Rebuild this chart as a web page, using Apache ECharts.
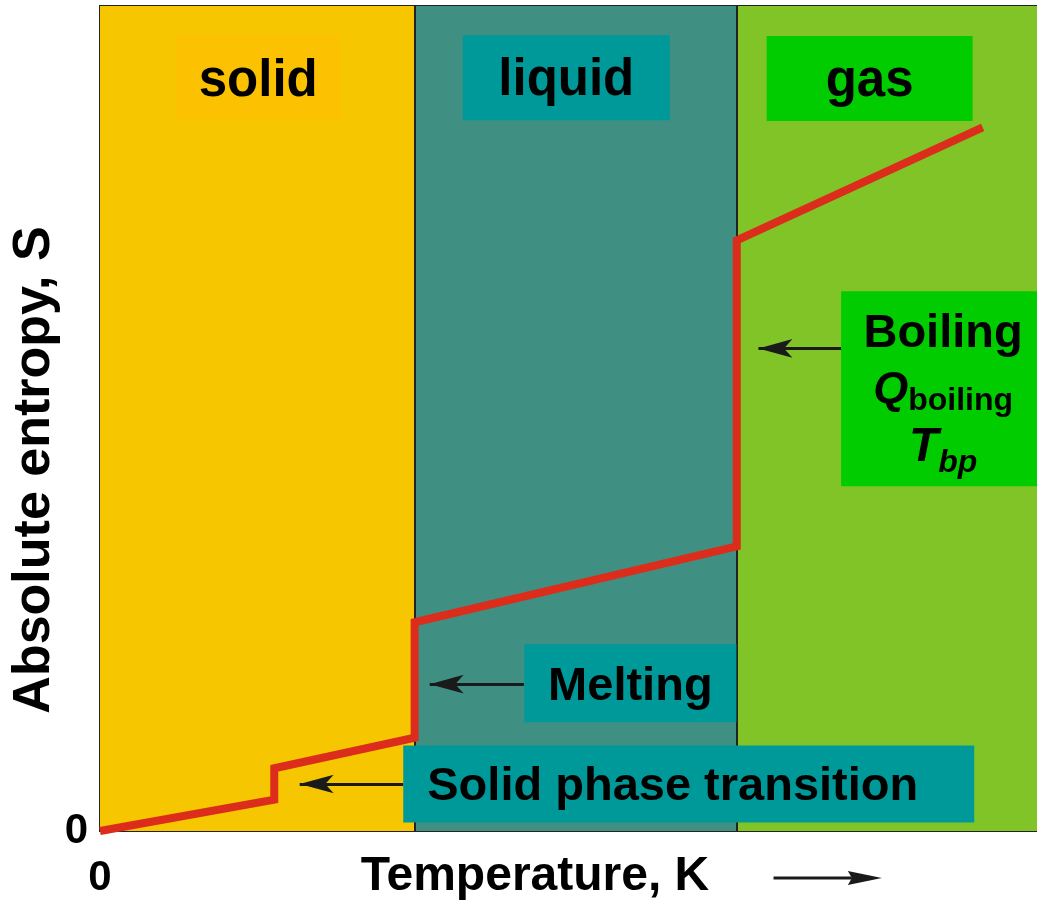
<!DOCTYPE html>
<html>
<head>
<meta charset="utf-8">
<script src="https://cdn.jsdelivr.net/npm/echarts@6/dist/echarts.min.js"></script>
<style>
  html, body { margin: 0; padding: 0; background: #fff; }
  #main { width: 1037px; height: 903px; }
</style>
</head>
<body>
<div id="main"></div>
<script>
// phases and where they meet on the temperature axis
var phaseNames = ['solid', 'liquid', 'gas'];
var phaseEdges = [0, 33.4, 67.6, 100];

// entropy curve (temperature, entropy)
var curveT = [0, 18.5, 18.5, 33.4, 33.4, 67.6, 67.6, 93.7];
var curveS = [0, 3.8, 7.6, 11.3, 25.3, 34.5, 71.6, 85.3];

// tick labels
var xTickLabels = ['0'];
var yTickLabels = ['0'];

// annotations: text, anchor (T, S), arrow from -> to
var notes = ['solid', 'liquid', 'gas', 'Boiling', 'Melting', 'Solid phase transition'];
var noteT = [16.8, 49.5, 81.7, 89.5, 56.3, 62.5];
var noteS = [91.2, 91.3, 91.2, 53.6, 17.9, 5.7];
var arrowFromT = [78.7, 45.0, 32.2];
var arrowToT = [69.9, 35.0, 21.2];
var arrowS = [58.5, 17.8, 5.7];
// the arrow next to the axis title, below the axis
var axisArrowT = [71.5, 83.0];
var axisArrowS = -5.7;

var FONT = '"Liberation Sans", Arial, sans-serif';
var bandColors = ['#F6C700', '#3F9082', '#80C427'];
var boxColors = ['#FCC100', '#009999', '#00CC00', '#00CC00', '#009999', '#009999'];
var boxSizes = [[165, 86], [207, 85], [206, 85], [204, 195], [212, 78], [571, 77]];
var textPads = [[6, 0, 0, 0], [6, 0, 0, 0], [6, 0, 0, 0], [4, 0, 0, 0], [7, 0, 0, 0], [7, 32, 0, 0]];

var myChart = echarts.init(document.getElementById('main'));

var curve = curveT.map(function (t, i) { return [t, curveS[i]]; });

var bands = phaseNames.map(function (n, i) {
  return [
    { xAxis: phaseEdges[i], itemStyle: { color: bandColors[i] } },
    { xAxis: phaseEdges[i + 1] }
  ];
});

var edgeLines = phaseEdges.slice(1, 3).map(function (e) { return { xAxis: e }; });

function noteText(n, i) {
  if (i < 3) return '{ph|' + n + '}';
  if (n === 'Boiling') return '{b|Boiling}\n{q|Q}{qs|boiling}\n{t|T}{ts|bp}';
  return '{ev|' + n + '}';
}

var noteData = notes.map(function (n, i) {
  return {
    value: [noteT[i], noteS[i]],
    symbolSize: boxSizes[i],
    itemStyle: { color: boxColors[i], opacity: 1 },
    label: { formatter: noteText(n, i), padding: textPads[i] }
  };
});

var arrows = arrowFromT.map(function (f, i) {
  return [
    { coord: [f, arrowS[i]], symbol: 'none' },
    { coord: [arrowToT[i], arrowS[i]], symbol: 'arrow' }
  ];
});

var option = {
  animation: false,
  grid: {
    left: 100, top: 6, right: -5, bottom: 72,
    containLabel: false, outerBoundsMode: 'none',
    show: true, borderColor: '#222', borderWidth: 2, backgroundColor: 'transparent'
  },
  xAxis: {
    type: 'value', min: 0, max: 100, interval: 100,
    name: 'Temperature, K', nameLocation: 'middle', nameGap: 22, nameMoveOverlap: false,
    nameTextStyle: { fontFamily: FONT, fontWeight: 'bold', fontSize: 48, color: '#000', padding: [0, 72, 0, 0] },
    axisLine: { show: true, lineStyle: { color: '#222', width: 2 } },
    axisTick: { show: false },
    splitLine: { show: false },
    axisLabel: {
      fontFamily: FONT, fontWeight: 'bold', fontSize: 42, color: '#000', margin: 26,
      formatter: function (v) { return v === 0 ? xTickLabels[0] : ''; }
    }
  },
  yAxis: {
    type: 'value', min: 0, max: 100, interval: 100,
    name: 'Absolute entropy, S', nameLocation: 'middle', nameGap: 39, nameRotate: 90, nameMoveOverlap: false,
    nameTextStyle: { fontFamily: FONT, fontWeight: 'bold', fontSize: 52, color: '#000', padding: [0, 103, 0, 0] },
    axisLine: { show: true, lineStyle: { color: '#222', width: 2 } },
    axisTick: { show: false },
    splitLine: { show: false },
    axisLabel: {
      fontFamily: FONT, fontWeight: 'bold', fontSize: 42, color: '#000', margin: 12, padding: [12, 0, 0, 0],
      formatter: function (v) { return v === 0 ? yTickLabels[0] : ''; }
    }
  },
  series: [
    {
      name: 'phases',
      type: 'line',
      data: [],
      z: 1,
      silent: true,
      markArea: { silent: true, z: 1, data: bands },
      markLine: {
        silent: true, z: 2, symbol: 'none', label: { show: false },
        lineStyle: { color: '#222', width: 2, type: 'solid' },
        data: edgeLines
      }
    },
    {
      name: 'entropy',
      type: 'line',
      data: curve,
      z: 3,
      silent: true,
      showSymbol: false,
      lineStyle: { color: '#DC2D1C', width: 8, join: 'miter' }
    },
    {
      name: 'notes',
      type: 'scatter',
      data: noteData,
      z: 6,
      silent: true,
      symbol: 'rect',
      label: {
        show: true, position: 'inside', align: 'center', verticalAlign: 'middle',
        color: '#000',
        rich: {
          ph: { fontFamily: FONT, fontWeight: 'bold', fontSize: 51, color: '#000' },
          ev: { fontFamily: FONT, fontWeight: 'bold', fontSize: 47, color: '#000' },
          b: { fontFamily: FONT, fontWeight: 'bold', fontSize: 47, lineHeight: 57, color: '#000' },
          q: { fontFamily: FONT, fontWeight: 'bold', fontStyle: 'italic', fontSize: 45, lineHeight: 57, color: '#000' },
          qs: { fontFamily: FONT, fontWeight: 'bold', fontSize: 32, lineHeight: 57, padding: [20, 0, 0, 0], color: '#000' },
          t: { fontFamily: FONT, fontWeight: 'bold', fontStyle: 'italic', fontSize: 48, lineHeight: 57, color: '#000' },
          ts: { fontFamily: FONT, fontWeight: 'bold', fontStyle: 'italic', fontSize: 32, lineHeight: 57, padding: [30, 0, 0, 0], color: '#000' }
        }
      },
      markLine: {
        silent: true,
        z: 5,
        symbolSize: [14, 34],
        label: { show: false },
        lineStyle: { color: '#1A1A1A', width: 3, type: 'solid' },
        data: arrows
      }
    }
  ]
};

myChart.setOption(option);

// arrow beside the axis title, placed through the axis scales
var a0 = myChart.convertToPixel({ gridIndex: 0 }, [axisArrowT[0], axisArrowS]);
var a1 = myChart.convertToPixel({ gridIndex: 0 }, [axisArrowT[1], axisArrowS]);
myChart.setOption({
  graphic: [
    {
      type: 'line', silent: true,
      shape: { x1: a0[0], y1: a0[1], x2: a1[0] - 30, y2: a1[1] },
      style: { stroke: '#1A1A1A', lineWidth: 3 }
    },
    {
      type: 'polygon', silent: true,
      shape: { points: [[a1[0], a1[1]], [a1[0] - 34, a1[1] - 7], [a1[0] - 30, a1[1]], [a1[0] - 34, a1[1] + 7]] },
      style: { fill: '#1A1A1A' }
    }
  ]
});
</script>
</body>
</html>
